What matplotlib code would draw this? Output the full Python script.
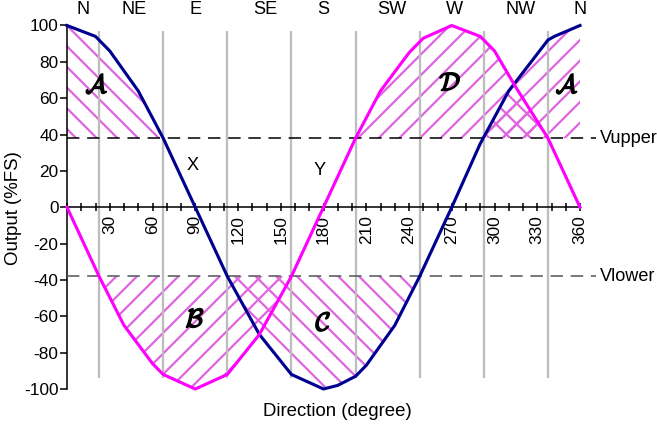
import numpy as np
import matplotlib.pyplot as plt
import matplotlib.patheffects as pe

# Kurvenpunkte (Grad, %FS)
navy_deg = [0, 20, 30, 50, 67.5, 90, 112.5, 135, 157.5, 180, 190, 202.5, 210, 230, 247.5, 270, 290, 310, 337.5, 342, 360]
navy_val = [100, 94, 86, 64, 38, 0, -38, -70, -92, -100, -98, -93, -87, -65, -38, 0, 35, 64, 92, 94, 100]
mag_deg = [0, 22.5, 40, 60, 67.5, 90, 112.5, 135, 157.5, 180, 202.5, 220, 240, 250, 270, 290, 300, 315, 337.5, 360]
mag_val = [0, -38, -65, -86, -92, -100, -92, -70, -38, 0, 38, 64, 85, 93, 100, 94, 86, 66, 38, 0]

v_upper = 38
v_lower = -38
sector_edges = [22.5, 67.5, 112.5, 157.5, 202.5, 247.5, 292.5, 337.5]
compass = ['N', 'NE', 'E', 'SE', 'S', 'SW', 'W', 'NW', 'N']
compass_pos = [11, 47, 90, 139, 180, 228, 272, 318, 360]
x_major = [30, 60, 90, 120, 150, 180, 210, 240, 270, 300, 330, 360]
y_major = [100, 80, 60, 40, 20, 0, -20, -40, -60, -80, -100]

DPI = 124
plt.rcParams['font.family'] = ['Liberation Sans', 'DejaVu Sans']
plt.rcParams['mathtext.fontset'] = 'cm'
plt.rcParams['hatch.linewidth'] = 1.3
hatch_col = '#e066e0'

fig = plt.figure(figsize=(657 / DPI, 426 / DPI), dpi=DPI)
ax = fig.add_axes([67 / 657, 1 - 389 / 426, 513 / 657, 363.5 / 426])
ax.set_xlim(0, 360)
ax.set_ylim(-100, 100)

nx = np.array(navy_deg, float)
ny = np.array(navy_val, float)
mx = np.array(mag_deg, float)
my = np.array(mag_val, float)

# gemeinsames Raster nur fuer die Schraffurflaechen
grid = np.union1d(nx, mx)
gn = np.interp(grid, nx, ny)
gm = np.interp(grid, mx, my)

# A links: "\" , A rechts: "/", D: "/", B: "/", C: "\"
left = grid <= 180
ax.fill_between(grid, gn, v_upper, where=(gn >= v_upper) & left, interpolate=True,
                facecolor='none', edgecolor=hatch_col, hatch='\\\\', linewidth=0)
ax.fill_between(grid, gn, v_upper, where=(gn >= v_upper) & ~left, interpolate=True,
                facecolor='none', edgecolor=hatch_col, hatch='//', linewidth=0)
ax.fill_between(grid, gm, v_upper, where=gm >= v_upper, interpolate=True,
                facecolor='none', edgecolor=hatch_col, hatch='//', linewidth=0)
both = np.minimum(gn, gm)
ax.fill_between(grid, both, v_upper, where=(both >= v_upper) & ~left, interpolate=True,
                facecolor='none', edgecolor=hatch_col, hatch='\\\\', linewidth=0)
ax.fill_between(grid, gm, v_lower, where=gm <= v_lower, interpolate=True,
                facecolor='none', edgecolor=hatch_col, hatch='//', linewidth=0)
ax.fill_between(grid, gn, v_lower, where=gn <= v_lower, interpolate=True,
                facecolor='none', edgecolor=hatch_col, hatch='\\\\', linewidth=0)

ax.vlines(sector_edges, -94, 97, color='#bdbdbd', linewidth=1.3, zorder=2)

ax.plot([0, 371], [v_upper, v_upper], color='black', linewidth=0.9,
        dashes=(8, 5), clip_on=False, zorder=3)
ax.plot([0, 371], [v_lower, v_lower], color='#555555', linewidth=0.9,
        dashes=(8, 5), clip_on=False, zorder=3)

ax.plot(nx, ny, color='#000090', linewidth=1.8, clip_on=False, zorder=5)
ax.plot(mx, my, color='#ff00ff', linewidth=1.8, clip_on=False, zorder=5)

# Achsen
for s in ['top', 'right']:
    ax.spines[s].set_visible(False)
ax.spines['bottom'].set_position(('data', 0))
ax.spines['left'].set_linewidth(0.9)
ax.spines['bottom'].set_linewidth(0.9)
ax.set_yticks(y_major)
ax.set_yticklabels([str(v) for v in y_major], fontsize=10)
ax.set_xticks(x_major)
ax.set_xticklabels([str(v) for v in x_major], rotation=90, fontsize=10, va='top')
ax.set_xticks(np.arange(0, 361, 10), minor=True)
ax.tick_params(axis='x', which='both', direction='inout', length=5, width=0.9, pad=2)
ax.tick_params(axis='y', direction='out', length=4, width=0.9, pad=1)

for lab, p in zip(compass, compass_pos):
    ax.text(p, 104, lab, ha='center', va='bottom', fontsize=10.5, clip_on=False)

ax.text(88, 23, 'X', ha='center', va='center', fontsize=10.5)
ax.text(177, 20, 'Y', ha='center', va='center', fontsize=10.5)
for lab, (px, py) in zip(['A', 'B', 'C', 'D', 'A'],
                         [(21, 67), (90, -62), (180, -64), (269, 68), (351, 67)]):
    t = ax.text(px, py, r'$\mathcal{%s}$' % lab, ha='center', va='center', fontsize=15, zorder=6)
    t.set_path_effects([pe.withStroke(linewidth=0.9, foreground='black')])

ax.text(374, v_upper, 'Vupper', ha='left', va='center', fontsize=10.5, clip_on=False)
ax.text(374, v_lower, 'Vlower', ha='left', va='center', fontsize=10.5, clip_on=False)

fig.text(337 / 657, 1 - 411 / 426, 'Direction (degree)', ha='center', va='center', fontsize=10.8)
fig.text(14 / 657, 1 - 208 / 426, 'Output (%FS)', ha='center', va='center',
         rotation=90, fontsize=10.8)

fig.savefig('out.png', dpi=DPI)
